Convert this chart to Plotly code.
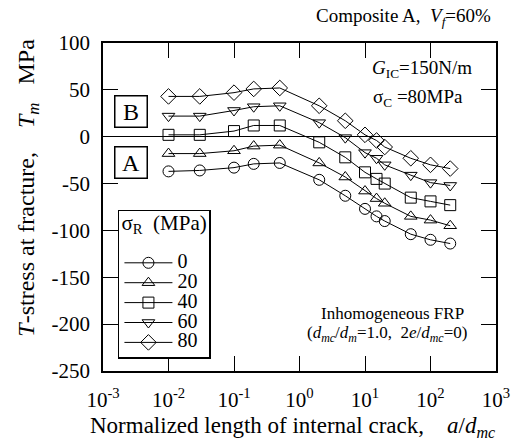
import plotly.graph_objects as go

# Data
a_dmc = [0.01, 0.03, 0.1, 0.2, 0.5, 2, 5, 10, 15, 20, 50, 100, 200]
sigma_R = ["0", "20", "40", "60", "80"]
T_0 = [-37, -36, -33, -29, -28, -46, -63, -77, -85, -90, -104, -110, -114]
T_20 = [-18, -18, -15, -10, -9, -28, -43, -58, -66, -71, -85, -89, -95]
T_40 = [2, 2, 6, 12, 12, -6, -22, -38, -45, -50, -65, -69, -73]
T_60 = [22, 22, 28, 32, 33, 15, -1, -17, -23, -30, -41, -49, -52]
T_80 = [43, 43, 47, 51, 52, 33, 17, 2, -4, -11, -23, -30, -34]
series = [T_0, T_20, T_40, T_60, T_80]
symbols = ["circle-open", "triangle-up-open", "square-open", "triangle-down-open", "diamond-open"]

x_tickvals = [1e-3, 1e-2, 1e-1, 1e0, 1e1, 1e2, 1e3]
x_ticktext = ["10<sup>-3</sup>", "10<sup>-2</sup>", "10<sup>-1</sup>", "10<sup>0</sup>",
              "10<sup>1</sup>", "10<sup>2</sup>", "10<sup>3</sup>"]
y_tickvals = [100, 50, 0, -50, -100, -150, -200, -250]
y_ticktext = ["100", "50", "0", "-50", "-100", "-150", "-200", "-250"]

FONT = "Liberation Serif"
NB = "\u00a0"

fig = go.Figure()
sizes = [11, 11, 11, 11, 12]
for name, vals, sym, sz in zip(sigma_R, series, symbols, sizes):
    fig.add_trace(go.Scatter(
        x=a_dmc, y=vals, name="<span style='font-size:20px'>" + name + "</span>",
        mode="lines+markers",
        line=dict(color="black", width=1),
        marker=dict(symbol=sym, size=sz, color="black", line=dict(color="black", width=1)),
    ))

axis_common = dict(
    showline=True, linecolor="black", linewidth=1.5, mirror="ticks",
    ticks="inside", ticklen=15, tickwidth=1, tickcolor="black",
    showgrid=False, tickfont=dict(family=FONT, size=21, color="black"),
    automargin=False,
)

fig.update_xaxes(type="log", range=[-3, 3], tickvals=x_tickvals, ticktext=x_ticktext,
                 ticklabelstandoff=9, **axis_common)
fig.update_yaxes(range=[-250, 100], tickvals=y_tickvals, ticktext=y_ticktext,
                 ticklabelstandoff=7,
                 zeroline=True, zerolinecolor="black", zerolinewidth=1,
                 **axis_common)

annot_font = dict(family=FONT, size=19, color="black")
box_font = dict(family=FONT, size=24, color="black")
fig.update_layout(
    width=513, height=443,
    margin=dict(l=103, r=17, t=43, b=72, autoexpand=False),
    paper_bgcolor="white", plot_bgcolor="white",
    showlegend=True,
    legend=dict(
        title=dict(text="<span style='font-size:21px'>σ<sub>R</sub>" + NB * 2 + "(MPa)</span><br>" + NB,
                   font=dict(family=FONT, size=14, color="black")),
        font=dict(family=FONT, size=13, color="black"),
        bordercolor="black", borderwidth=1.5, bgcolor="white",
        x=0.038, y=0.491, xanchor="left", yanchor="top",
        itemwidth=48, tracegroupgap=0,
    ),
    annotations=[
        # axis titles
        dict(text="Normalized length of internal crack," + NB * 4 + "<i>a</i>/<i>d<sub>mc</sub></i>",
             xref="paper", yref="paper", x=0.481, y=0, xanchor="center", yanchor="middle",
             yshift=-56, showarrow=False, font=dict(family=FONT, size=23, color="black")),
        dict(text="<i>T</i>-stress at fracture," + NB * 4 + "<i>T<sub>m</sub></i>" + NB * 3 + "MPa",
             xref="paper", yref="paper", x=0, y=0.559, xanchor="center", yanchor="middle",
             xshift=-75, textangle=-90, showarrow=False, font=dict(family=FONT, size=24, color="black")),
        dict(text="Composite A," + NB * 2 + "<i>V<sub>f</sub></i>=60%", xref="paper", yref="paper",
             x=0.992, y=1.0, xanchor="right", yanchor="middle", yshift=26, showarrow=False,
             font=dict(family=FONT, size=19, color="black")),
        dict(text="<i>G</i><sub>IC</sub>=150N/m", xref="paper", yref="paper",
             x=0.68, y=0.92, xanchor="left", yanchor="middle", showarrow=False, font=annot_font),
        dict(text="σ<sub>C</sub> =80MPa", xref="paper", yref="paper",
             x=0.683, y=0.832, xanchor="left", yanchor="middle", showarrow=False, font=annot_font),
        dict(text="B", xref="paper", yref="paper", x=0.071, y=0.79, xanchor="center", yanchor="middle",
             showarrow=False, bordercolor="black", borderwidth=1.5, borderpad=2, width=27, height=26,
             bgcolor="white", font=box_font),
        dict(text="A", xref="paper", yref="paper", x=0.071, y=0.637, xanchor="center", yanchor="middle",
             showarrow=False, bordercolor="black", borderwidth=1.5, borderpad=2, width=27, height=26,
             bgcolor="white", font=box_font),
        dict(text="Inhomogeneous FRP", xref="paper", yref="paper",
             x=0.924, y=0.176, xanchor="right", yanchor="middle", showarrow=False,
             font=dict(family=FONT, size=17, color="black")),
        dict(text="(<i>d<sub>mc</sub></i>/<i>d<sub>m</sub></i>=1.0," + NB * 2 + "2<i>e</i>/<i>d<sub>mc</sub></i>=0)",
             xref="paper", yref="paper",
             x=0.932, y=0.113, xanchor="right", yanchor="middle", showarrow=False,
             font=dict(family=FONT, size=17, color="black")),
    ],
)

fig.write_html(
    "out.html",
    config={"displayModeBar": False},
    post_script="document.documentElement.style.margin='0';document.body.style.margin='0';"
                "document.body.style.overflow='hidden';",
)
